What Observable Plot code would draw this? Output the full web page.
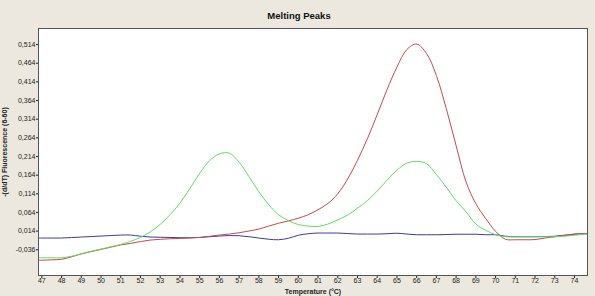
<!DOCTYPE html>
<html>
<head>
<meta charset="utf-8">
<script src="https://cdn.jsdelivr.net/npm/d3@7"></script>
<script src="https://cdn.jsdelivr.net/npm/@observablehq/plot@0.6"></script>
<style>
  html, body { margin: 0; padding: 0; background: #ece8df; }
  body { width: 595px; height: 296px; position: relative; overflow: hidden; font-family: "Liberation Sans", Arial, sans-serif; }
  #title { position: absolute; left: 0; top: 10px; width: 598px; text-align: center; font-weight: bold; font-size: 9.5px; color: #111; }
  #spacer { height: 28px; }
  #chart svg { display: block; }
</style>
</head>
<body>
<div id="title">Melting Peaks</div>
<div id="spacer"></div>
<div id="chart"></div>
<script>
const temps = [
  46.85,
  47, 47.5, 48, 48.5, 49, 49.5, 50, 50.5, 51, 51.5,
  52, 52.5, 53, 53.5, 54, 54.5, 55, 55.5, 56, 56.5,
  57, 57.5, 58, 58.5, 59, 59.5, 60, 60.5, 61, 61.5,
  62, 62.5, 63, 63.5, 64, 64.5, 65, 65.5, 66, 66.5,
  67, 67.5, 68, 68.5, 69, 69.5, 70, 70.5, 71, 71.5,
  72, 72.5, 73, 73.5, 74, 74.5,
  74.65
];

const redValues = [
  -0.064,
  -0.064, -0.063, -0.0615, -0.055, -0.047, -0.041, -0.035, -0.029, -0.023, -0.019,
  -0.014, -0.010, -0.008, -0.0065, -0.0057, -0.0044, -0.003, 0.000, 0.0034, 0.0061,
  0.0096, 0.0142, 0.0195, 0.0275, 0.0350, 0.0413, 0.0485, 0.0579, 0.0713, 0.0880,
  0.1140, 0.1534, 0.2038, 0.2613, 0.3262, 0.3935, 0.4534, 0.5006, 0.5153, 0.490,
  0.4308, 0.3423, 0.243, 0.1464, 0.0874, 0.0477, 0.0134, -0.0078, -0.0092, -0.0092,
  -0.0087, -0.0046, -0.0011, 0.0029, 0.0061, 0.0077,
  0.0077
];

const greenValues = [
  -0.0575,
  -0.0575, -0.0575, -0.0575, -0.0535, -0.0468, -0.040, -0.0341, -0.028, -0.0218, -0.0133,
  -0.003, 0.012, 0.032, 0.058, 0.089, 0.128, 0.169, 0.203, 0.221, 0.223,
  0.1987, 0.1598, 0.1196, 0.0847, 0.0579, 0.0418, 0.0316, 0.0276, 0.0265, 0.0329,
  0.0439, 0.0571, 0.0753, 0.0955, 0.1215, 0.1505, 0.1773, 0.1961, 0.2009, 0.1947,
  0.1655, 0.1317, 0.0955, 0.0659, 0.0329, 0.0163, 0.0042, -0.0011, -0.0011, -0.0011,
  -0.0011, -0.0011, -0.0011, 0.0002, 0.0029, 0.0056,
  0.0061
];

const blueValues = [
  -0.0046,
  -0.0046, -0.0046, -0.0046, -0.0033, -0.0019, -0.0006, 0.0007, 0.0021, 0.0034, 0.0034,
  0.0002, -0.0019, -0.0025, -0.0030, -0.0038, -0.0038, -0.0030, -0.0011, 0.0007, 0.0021,
  0.0015, -0.0011, -0.0046, -0.0078, -0.0092, -0.0052, 0.0029, 0.0069, 0.0088, 0.0088,
  0.0088, 0.0075, 0.0061, 0.0061, 0.0061, 0.0069, 0.0083, 0.0061, 0.0042, 0.0042,
  0.0042, 0.0048, 0.0056, 0.0056, 0.0056, 0.0042, 0.0042, 0.0002, -0.0011, -0.0011,
  -0.0011, -0.0006, 0.0002, 0.0029, 0.0056, 0.0069,
  0.0069
];

const yTicks = [-0.036, 0.014, 0.064, 0.114, 0.164, 0.214, 0.264, 0.314, 0.364, 0.414, 0.464, 0.514];
const xTicks = d3.range(47, 75, 1);

const seriesColors = { red: "#c84848", green: "#5fdc5f", blue: "#3a3aa8" };

const lineOpts = { curve: "catmull-rom", strokeWidth: 1 };

const plot = Plot.plot({
  width: 595,
  height: 268,
  marginLeft: 38,
  marginRight: 8,
  marginTop: 0,
  marginBottom: 21,
  style: { background: "transparent", fontFamily: "'Liberation Sans', Arial, sans-serif", fontSize: "7px", color: "#222" },
  x: { domain: [46.83, 74.66] },
  y: { domain: [-0.105, 0.557] },
  marks: [
    Plot.frame({ fill: "white", stroke: "none" }),
    Plot.axisY({
      ticks: yTicks,
      tickFormat: d => d.toFixed(3).replace(".", ","),
      tickSize: 2,
      tickPadding: 1,
      fontSize: 7,
      label: "-(d/dT) Fluorescence (6-60)",
      labelAnchor: "center",
      labelArrow: "none",
      labelOffset: 36
    }),
    Plot.axisX({
      ticks: xTicks,
      tickFormat: d => String(d),
      tickSize: 3,
      tickPadding: 0,
      fontSize: 7,
      label: "Temperature (°C)",
      labelAnchor: "center",
      labelArrow: "none",
      labelOffset: 18
    }),
    Plot.line(temps, { x: temps, y: blueValues, stroke: seriesColors.blue, ...lineOpts }),
    Plot.line(temps, { x: temps, y: redValues, stroke: seriesColors.red, ...lineOpts }),
    Plot.line(temps, { x: temps, y: greenValues, stroke: seriesColors.green, ...lineOpts }),
    Plot.frame({ stroke: "#555", strokeWidth: 1 })
  ]
});

plot.querySelectorAll("g[aria-label='y-axis label'] text, g[aria-label='x-axis label'] text").forEach(t => {
  t.setAttribute("font-weight", "bold");
  t.setAttribute("font-size", "7");
});

document.getElementById("chart").appendChild(plot);
</script>
</body>
</html>
